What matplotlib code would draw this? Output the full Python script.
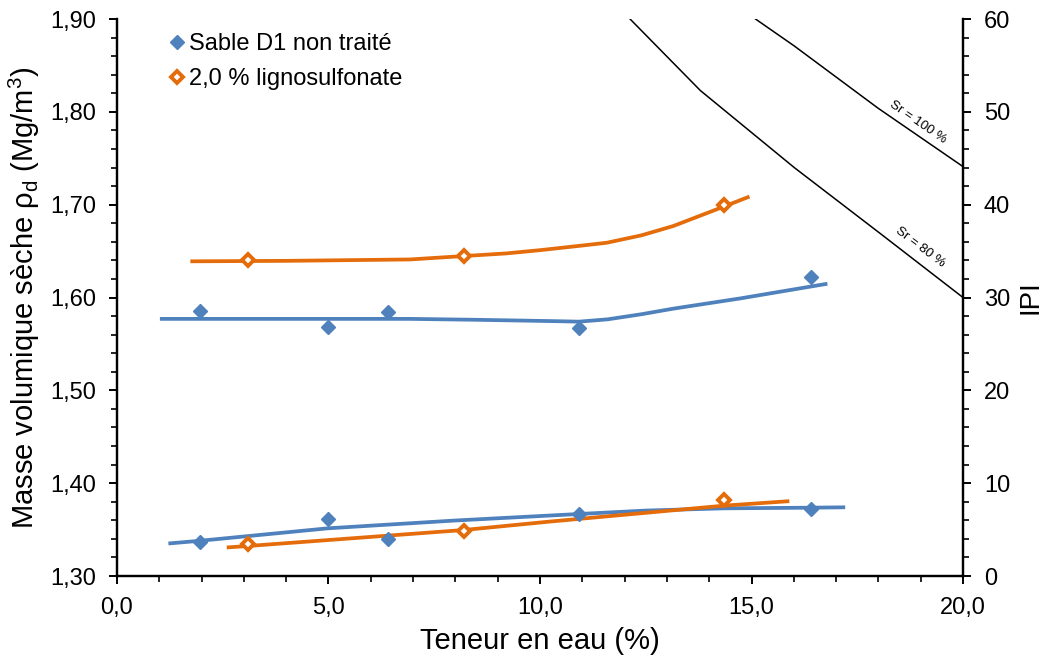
# ==========================================
# Compactage : masse volumique seche + IPI
# ==========================================

import matplotlib
matplotlib.use("Agg")
import matplotlib.pyplot as plt
from matplotlib.ticker import MultipleLocator, FuncFormatter

plt.rcParams['font.family'] = ['Liberation Sans', 'DejaVu Sans']
plt.rcParams['mathtext.default'] = 'regular'

# ==========================================
# Donnees
# ==========================================

# points mesures - sable non traite
teneur_sable = [1.97, 4.99, 6.40, 10.92, 16.40]
rho_sable = [1.586, 1.568, 1.584, 1.567, 1.622]
ipi_sable = [3.7, 6.1, 4.0, 6.7, 7.2]

# points mesures - 2,0 % lignosulfonate
teneur_ligno = [3.09, 8.21, 14.35]
rho_ligno = [1.640, 1.645, 1.700]
ipi_ligno = [3.45, 4.9, 8.2]

# courbes de tendance (sommets releves)
tend_rho_sable_x = [1.06, 4.0, 6.9, 8.5, 10.4, 10.92, 11.6, 12.4, 13.15, 14.73, 16.75]
tend_rho_sable_y = [1.577, 1.577, 1.577, 1.576, 1.5745, 1.574, 1.5765, 1.582, 1.588, 1.599, 1.6145]
tend_rho_ligno_x = [1.78, 4.0, 6.93, 8.21, 9.2, 10.0, 10.8, 11.58, 12.4, 13.15, 14.35, 14.91]
tend_rho_ligno_y = [1.639, 1.6395, 1.641, 1.6447, 1.6475, 1.651, 1.655, 1.659, 1.667, 1.677, 1.698, 1.708]
tend_ipi_sable_x = [1.26, 1.97, 4.99, 8.0, 10.0, 10.92, 12.5, 14.35, 16.4, 17.17]
tend_ipi_sable_y = [3.52, 3.80, 5.14, 5.98, 6.46, 6.68, 7.05, 7.29, 7.36, 7.40]
tend_ipi_ligno_x = [2.64, 3.09, 8.21, 10.2, 14.35, 15.85]
tend_ipi_ligno_y = [3.09, 3.23, 4.96, 5.85, 7.58, 8.05]

# courbes de saturation
sr100_x = [15.0, 16.01, 17.99, 20.0]
sr100_y = [1.903, 1.871, 1.804, 1.741]
sr80_x = [12.0, 13.79, 16.01, 18.07, 20.0]
sr80_y = [1.906, 1.823, 1.740, 1.668, 1.600]

bleu = "#4F81BD"
orange = "#E46C0A"

# ==========================================
# Figure
# ==========================================

fig = plt.figure(figsize=(10.47, 6.58), dpi=100)
ax = fig.add_axes([0.1117, 0.1246, 0.8081, 0.8465])
ax2 = ax.twinx()

# masse volumique (axe gauche)
ax.plot(tend_rho_sable_x, tend_rho_sable_y, color=bleu, lw=2.7, zorder=2)
ax.plot(tend_rho_ligno_x, tend_rho_ligno_y, color=orange, lw=2.7, zorder=2)
ax.plot(teneur_sable, rho_sable, ls="none", marker="D", ms=7.5, color=bleu,
        label="Sable D1 non traité", zorder=3)
ax.plot(teneur_ligno, rho_ligno, ls="none", marker="D", ms=6.3, mfc="white",
        mec=orange, mew=2.8, label="2,0 % lignosulfonate", zorder=3)

# saturation
ax.plot(sr100_x, sr100_y, color="black", lw=1.1)
ax.plot(sr80_x, sr80_y, color="black", lw=1.1)
ax.text(18.94, 1.789, "Sr = 100 %", fontsize=9.5, rotation=-34.5, ha="center", va="center")
ax.text(18.98, 1.654, "Sr = 80 %", fontsize=9.5, rotation=-37, ha="center", va="center")

# IPI (axe droit)
ax2.plot(tend_ipi_sable_x, tend_ipi_sable_y, color=bleu, lw=2.7, zorder=2)
ax2.plot(tend_ipi_ligno_x, tend_ipi_ligno_y, color=orange, lw=2.7, zorder=2)
ax2.plot(teneur_sable, ipi_sable, ls="none", marker="D", ms=7.5, color=bleu, zorder=3)
ax2.plot(teneur_ligno, ipi_ligno, ls="none", marker="D", ms=6.3, mfc="white",
         mec=orange, mew=2.8, zorder=3)

# ==========================================
# Axes
# ==========================================

virgule = FuncFormatter(lambda v, p: f"{v:.1f}".replace(".", ","))
virgule2 = FuncFormatter(lambda v, p: f"{v:.2f}".replace(".", ","))

ax.set_xlim(0, 20)
ax.set_ylim(1.30, 1.90)
ax2.set_ylim(0, 60)

ax.xaxis.set_major_locator(MultipleLocator(5))
ax.xaxis.set_minor_locator(MultipleLocator(1))
ax.yaxis.set_major_locator(MultipleLocator(0.1))
ax.yaxis.set_minor_locator(MultipleLocator(0.02))
ax2.yaxis.set_major_locator(MultipleLocator(10))
ax2.yaxis.set_minor_locator(MultipleLocator(2))
ax.xaxis.set_major_formatter(virgule)
ax.yaxis.set_major_formatter(virgule2)

for a in (ax, ax2):
    a.spines["top"].set_visible(False)
    for s in a.spines.values():
        s.set_linewidth(1.6)
    a.tick_params(which="major", length=6, width=1.4, labelsize=17, direction="out", pad=9)
    a.tick_params(which="minor", length=4, width=1.2, direction="out")

ax.set_xlabel("Teneur en eau (%)", fontsize=21, labelpad=6)
ax.set_ylabel("Masse volumique sèche ρ$_d$ (Mg/m$^3$)", fontsize=21, labelpad=6)
ax2.set_ylabel("IPI", fontsize=20, labelpad=5)

ax.legend(loc="upper left", bbox_to_anchor=(0.04, 1.0), frameon=False, fontsize=17,
          handletextpad=0.0, handlelength=1.0, labelspacing=0.55, borderaxespad=0.2)

fig.savefig("out.png", dpi=100)
